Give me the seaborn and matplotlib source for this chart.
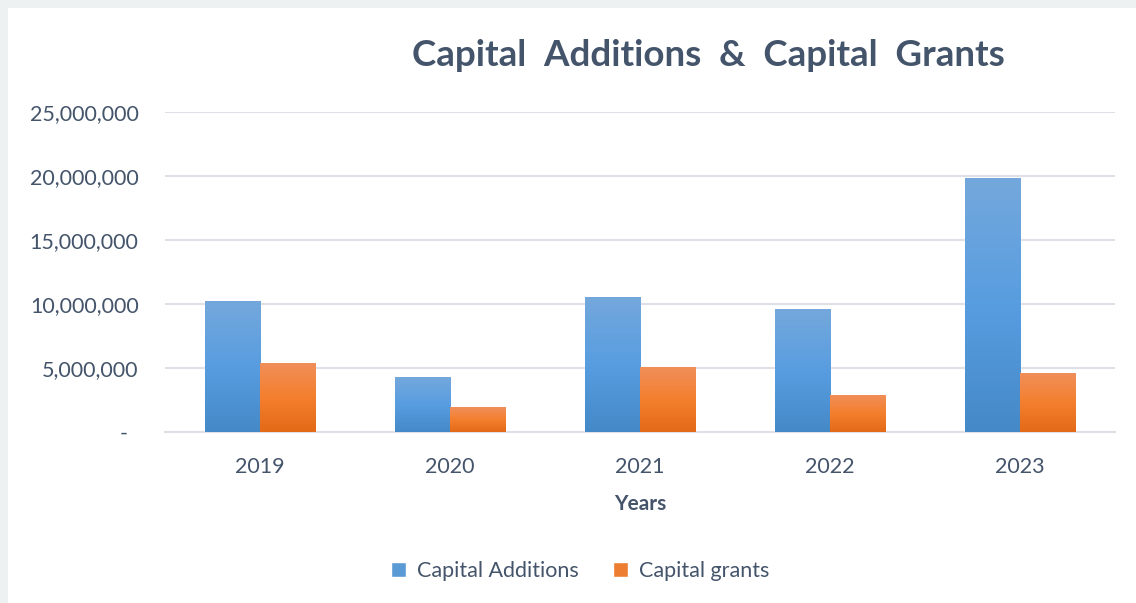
import pandas as pd
import seaborn as sns
import matplotlib.pyplot as plt
import numpy as np
from matplotlib.patches import Rectangle
from matplotlib.colors import LinearSegmentedColormap

# Data
years = ['2019', '2020', '2021', '2022', '2023']
capital_additions = [10230000, 4290000, 10540000, 9600000, 19830000]
capital_grants = [5390000, 1950000, 5070000, 2890000, 4600000]
series_names = ['Capital Additions', 'Capital grants']
y_ticks = [0, 5000000, 10000000, 15000000, 20000000, 25000000]
y_tick_labels = ['-  ', '5,000,000', '10,000,000', '15,000,000', '20,000,000', '25,000,000']

df = pd.DataFrame({'Years': years * 2,
                   'value': capital_additions + capital_grants,
                   'series': [series_names[0]] * len(years) + [series_names[1]] * len(years)})

txt = '#44546a'
grid_col = '#dde1e7'
colors = {'Capital Additions': '#5b9bd5', 'Capital grants': '#ed7d31'}
# gradient stops top -> bottom
grads = {'#5b9bd5': ['#74a8dc', '#589de0', '#4589c8'],
         '#ed7d31': ['#f08f5a', '#f47f2e', '#e36a17']}

sns.set_style('white')
plt.rcParams['font.family'] = ['Lato', 'DejaVu Sans']

fig = plt.figure(figsize=(11.36, 6.03), dpi=100, facecolor='#edf1f2')
fig.patches.append(Rectangle((8 / 1136, 0), 1, 1 - 8 / 603, transform=fig.transFigure,
                             facecolor='white', edgecolor='none', zorder=-5))
ax = fig.add_axes([165 / 1136, 1 - 432 / 603, 950 / 1136, (432 - 111.7) / 603])
ax.set_facecolor('none')
ax.set_zorder(2)

sns.barplot(data=df, x='Years', y='value', hue='series', palette=colors, width=0.58,
            saturation=1, ax=ax, legend=True, zorder=3)

# gradient fill on bars
for p in ax.patches:
    if p.get_height() <= 0:
        continue
    fc = p.get_facecolor()
    hexc = '#%02x%02x%02x' % tuple(int(round(c * 255)) for c in fc[:3])
    if hexc not in grads:
        continue
    cmap = LinearSegmentedColormap.from_list('g', grads[hexc])
    x0, y0 = p.get_x(), p.get_y()
    w, h = p.get_width(), p.get_height()
    im = ax.imshow(np.linspace(0, 1, 100).reshape(-1, 1), cmap=cmap, aspect='auto',
                   extent=[x0, x0 + w, y0, y0 + h], origin='upper', zorder=3)
    im.set_clip_path(p)

ax.set_xlim(-0.5, 4.5)
ax.set_ylim(0, 25000000)
ax.set_yticks(y_ticks)
ax.set_yticklabels(y_tick_labels)
ax.yaxis.grid(True, color=grid_col, linewidth=1.5, zorder=0)
ax.set_axisbelow(True)
for s in ['top', 'right', 'left']:
    ax.spines[s].set_visible(False)
ax.spines['bottom'].set_color(grid_col)
ax.spines['bottom'].set_linewidth(1.5)
ax.tick_params(axis='both', length=0, labelsize=15.5, labelcolor=txt)
ax.tick_params(axis='y', pad=19)
ax.tick_params(axis='x', pad=18)
ax.set_ylabel('')
ax.set_xlabel('Years', fontsize=15, fontweight='bold', color=txt, labelpad=12)

fig.text(708 / 1136, 1 - 55 / 603, 'Capital  Additions  &  Capital  Grants', ha='center', va='center',
         fontsize=26.5, fontweight='bold', color=txt)

ax.legend(loc='center', bbox_to_anchor=(580 / 1136, 1 - 571 / 603), bbox_transform=fig.transFigure,
          ncol=2, frameon=False, fontsize=15.5, labelcolor=txt, handlelength=0.7, handleheight=0.7,
          columnspacing=1.6, handletextpad=0.5)

fig.savefig('out.png', dpi=100, facecolor=fig.get_facecolor())
